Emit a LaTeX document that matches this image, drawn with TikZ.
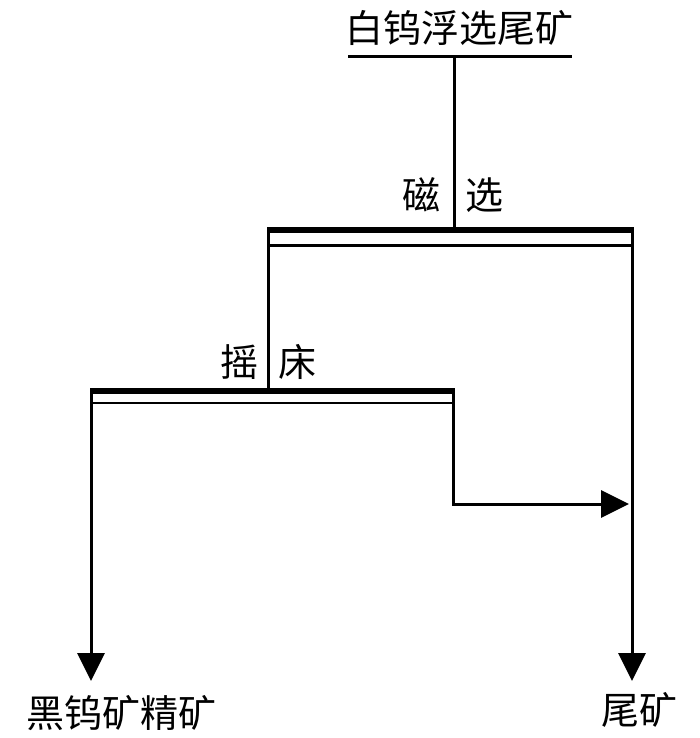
\documentclass[tikz,border=0pt]{standalone}
\usepackage{fontspec}
\newfontfamily\cjk{Noto Sans CJK SC}
\usetikzlibrary{arrows.meta}
\begin{document}
\begin{tikzpicture}[x=1pt,y=-1pt,
  lbl/.style={inner sep=0pt,font=\cjk\fontsize{38}{42}\selectfont},
  ln/.style={line width=3pt},
  thickbar/.style={line width=6pt},
  thinbar/.style={line width=2.2pt},
  arr/.style={ln,-{Triangle[length=28pt,width=27pt]}}]
\useasboundingbox (0,0) rectangle (700,738);
% top feed
\node[lbl] (feed) at (459,28) {白钨浮选尾矿};
\coordinate (ulL) at (348,57);
\coordinate (ulR) at (572,57);
\draw[ln] (ulL) -- (ulR);
\coordinate (feedbot) at (454,57);
% magnetic separation bar
\coordinate (mL) at (268,229.5);
\coordinate (mR) at (632,229.5);
\coordinate (mC) at (454,229.5);
\coordinate (mLt) at (268,245.5);
\coordinate (mRt) at (632,245.5);
\draw[ln] (feedbot) -- (mC);
\draw[thickbar] (mL) -- (mR);
\draw[thinbar] (mLt) -- (mRt);
\draw[ln] (268,227) -- (268,247);
\node[lbl] (ci) at (421,195) {磁};
\node[lbl] (xuan) at (484,195) {选};
% shaking table bar
\coordinate (sL) at (91,390.5);
\coordinate (sR) at (453,390.5);
\coordinate (sLt) at (91,403);
\coordinate (sRt) at (453,403);
\coordinate (sC) at (268,390.5);
\draw[ln] (268,245) -- (sC);
\draw[thickbar] (sL) -- (sR);
\draw[thinbar] (sLt) -- (sRt);
\node[lbl] (yao) at (239,362) {摇};
\node[lbl] (chuang) at (297,362) {床};
% outputs
\node[lbl] (conc) at (121,713) {黑钨矿精矿};
\node[lbl] (tail) at (639,710) {尾矿};
\coordinate (concTop) at (91,681);
\coordinate (tailTop) at (632,681);
\coordinate (bend) at (453,504);
\coordinate (join) at (629,504);
\draw[arr] (91,388) -- (concTop);
\draw[arr] (632,227) -- (tailTop);
\draw[arr] (453,388) -- (bend) -- (join);
\end{tikzpicture}
\end{document}
